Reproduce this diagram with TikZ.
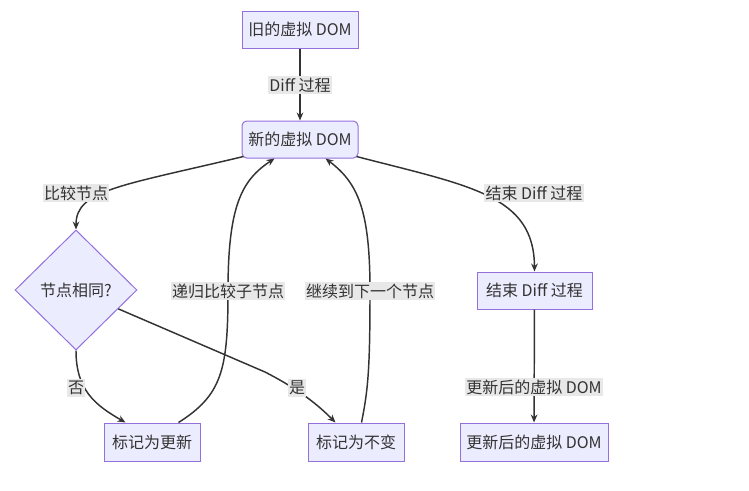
\documentclass[tikz,border=0pt]{standalone}
\usepackage{fontspec}
\setmainfont{Noto Sans CJK SC}
\usetikzlibrary{shapes.geometric,arrows.meta,calc}
\definecolor{nodefill}{HTML}{ECECFF}
\definecolor{nodedraw}{HTML}{9370DB}
\definecolor{txt}{HTML}{333333}
\definecolor{lbl}{HTML}{E8E8E8}
\begin{document}
\begin{tikzpicture}[x=0.75pt,y=-0.75pt, font=\fontsize{12}{14}\selectfont,
 box/.style={draw=nodedraw, fill=nodefill, line width=0.75pt, text=txt, minimum height=27.75pt, inner sep=0pt},
 rbox/.style={box, rounded corners=3.5pt},
 dec/.style={diamond, draw=nodedraw, fill=nodefill, line width=0.75pt, text=txt, minimum width=91.5pt, minimum height=90pt, inner sep=0pt},
 edge/.style={draw=txt, line width=1.1pt, -{Stealth[length=6pt,width=5pt]}},
 elabel/.style={fill=lbl, text=txt, inner xsep=1pt, inner ysep=1.5pt}]
\useasboundingbox (0,0) rectangle (749,490);
\node[box, minimum width=87pt] (A) at (300,29.5) {旧的虚拟 DOM};
\node[rbox, minimum width=87pt] (B) at (300,139.5) {新的虚拟 DOM};
\node[dec] (C) at (76,290) {节点相同?};
\node[box, minimum width=72pt, minimum height=28.5pt] (D) at (152,442) {标记为更新};
\node[box, minimum width=72pt, minimum height=28.5pt] (E) at (356,442) {标记为不变};
\node[box, minimum width=86.25pt] (F) at (534.5,290.5) {结束 Diff 过程};
\node[box, minimum width=111pt, minimum height=28.5pt] (G) at (534,442) {更新后的虚拟 DOM};

\draw[edge] (A) -- (B);
\draw[edge] ($(B.south west)+(2,-2)$) .. controls (120,186) and (76,190) .. (C.north);
\draw[edge] ($(B.south east)+(-2,-2)$) .. controls (470,186) and (534,195) .. (F.north);
\draw[edge] (C.south) .. controls (76,390) and (95,405) .. ($(D.north west)+(22,0)$);
\draw[edge] (C.-24) -- (265,372) .. controls (300,390) and (318,405) .. ($(E.north west)+(28,0)$);
\draw[edge] ($(D.north east)+(-22,0)$) .. controls (222,395) and (228,370) .. (228,291) .. controls (228,205) and (242,180) .. ($(B.south west)+(33,0)$);
\draw[edge] ($(E.north west)+(54,0)$) .. controls (368,390) and (370,370) .. (370,291) .. controls (370,210) and (358,183) .. ($(B.south east)+(-33,0)$);
\draw[edge] (F) -- (G);

\node[elabel] (l1) at (300,85) {Diff 过程};
\node[elabel] (l2) at (76,193) {比较节点};
\node[elabel] (l3) at (534,193) {结束 Diff 过程};
\node[elabel] (l4) at (76,388) {否};
\node[elabel] (l5) at (297,388) {是};
\node[elabel] (l6) at (228,291) {递归比较子节点};
\node[elabel] (l7) at (370,291) {继续到下一个节点};
\node[elabel] (l8) at (534,387) {更新后的虚拟 DOM};
\end{tikzpicture}
\end{document}
